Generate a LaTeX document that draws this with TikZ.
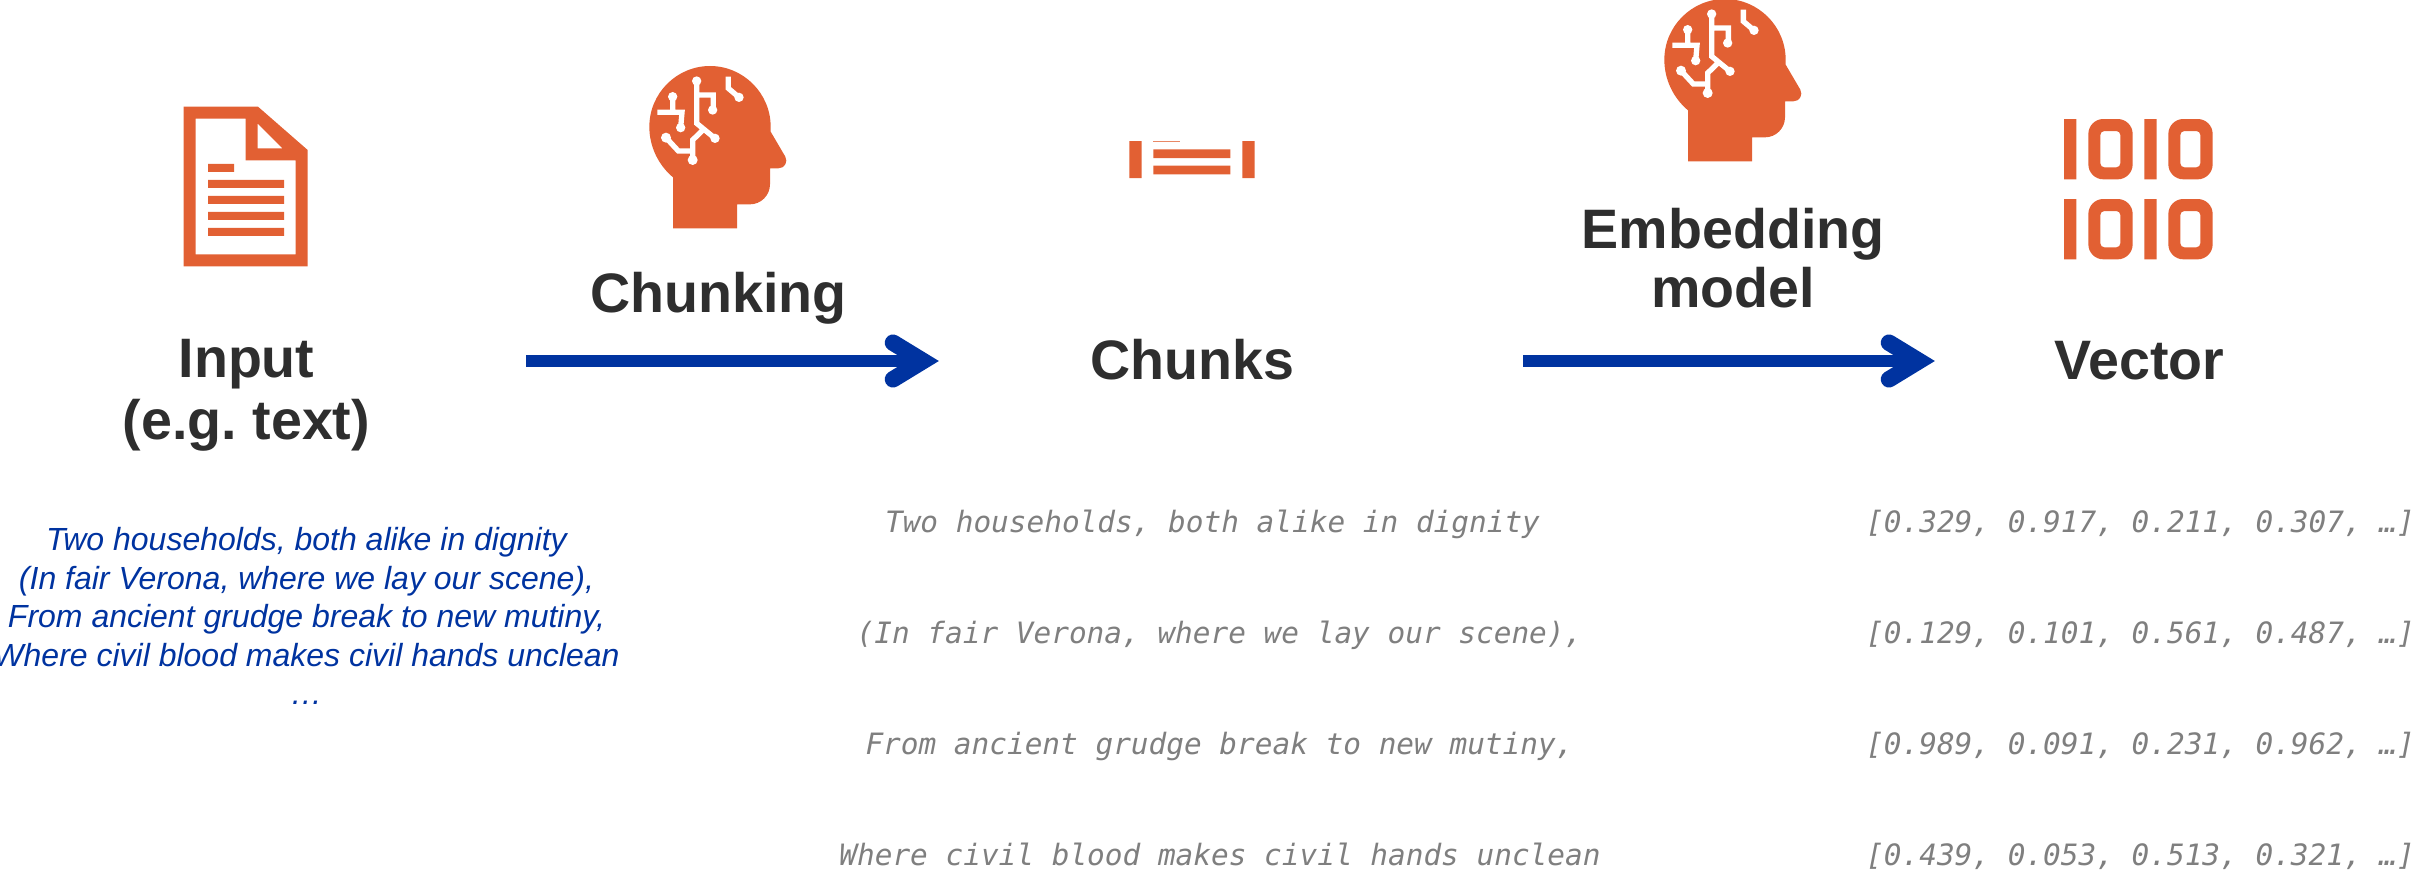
\documentclass[tikz,border=0pt]{standalone}
\usepackage{fontspec}
\setmainfont{Liberation Sans}
\newfontfamily\monofam{DejaVu Sans Mono}
\frenchspacing
\definecolor{iconc}{HTML}{E26033}
\definecolor{arrowc}{HTML}{0033A0}
\definecolor{titlec}{HTML}{2E2E2E}
\definecolor{monoc}{HTML}{7F7F7F}
\tikzset{
  x=1pt,y=-1pt,
  title/.style={font=\fontsize{55.6}{62}\selectfont\bfseries,text=titlec,align=center,inner sep=0pt},
  verse/.style={font=\fontsize{32}{38.5}\selectfont\itshape,text=arrowc,align=center,inner sep=0pt},
  chunkline/.style={font=\monofam\itshape\fontsize{29.4}{34}\selectfont,text=monoc,anchor=base,inner sep=0pt},
  vecline/.style={font=\monofam\itshape\fontsize{29.4}{34}\selectfont,text=monoc,anchor=base west,inner sep=0pt},
  flow/.style={draw=arrowc,line width=12pt},
  barb/.style={draw=arrowc,line width=16.5pt,line cap=round,line join=miter,miter limit=10},
  headicon/.pic={
    \begin{scope}[x=0.33333pt,y=-0.33333pt]
    \fill[iconc] (129,367) .. controls (85,330) and (58,275) .. (58,215)
      .. controls (58,115) and (140,33) .. (240,33)
      .. controls (340,33) and (422,115) .. (422,215)
      -- (422,230) -- (466,305) .. controls (474,320) and (465,340) .. (445,340)
      -- (420,340) -- (420,388) .. controls (420,421) and (393,448) .. (360,448)
      -- (321,448) -- (321,520) -- (129,520) -- cycle;
    \draw[white,line width=5.3pt,line join=miter]
      (200,78) -- (200,205) -- (255,250)
      (200,120) -- (250,120) -- (250,165)
      (222,222) -- (188,255) -- (188,315)
      (188,288) -- (145,288) -- (108,248)
      (128,125) -- (128,172)
      (82,172) -- (156,172) -- (152,218)
      (295,65) -- (295,100) -- (327,127);
    \fill[white] (200,78) circle[radius=14] (255,250) circle[radius=14]
      (248,165) circle[radius=14] (188,315) circle[radius=15]
      (108,248) circle[radius=15] (128,125) circle[radius=14]
      (152,218) circle[radius=14] (327,127) circle[radius=14];
    \end{scope}
  },
  binrow/.pic={
    \begin{scope}[x=0.33333pt,y=-0.33333pt]
    \fill[iconc] (72,0) rectangle (109,181) (313,0) rectangle (350,181);
    \fill[iconc,even odd rule]
      (145,0) [rounded corners=15pt] rectangle (278,181)
      [rounded corners=4pt] (181,36) rectangle (241,145)
      [rounded corners=15pt] (385,0) rectangle (518,181)
      [rounded corners=4pt] (421,36) rectangle (481,145);
    \end{scope}
  }
}
\begin{document}
\begin{tikzpicture}
\useasboundingbox (0,0) rectangle (2415,875);
% document icon
\begin{scope}[shift={(170,95)},x=0.33333pt,y=-0.33333pt]
  \fill[iconc,even odd rule] (41,35) -- (264,35) -- (413,165) -- (413,514) -- (41,514) -- cycle
    (77,71) -- (227,71) -- (227,196) -- (377,196) -- (377,478) -- (77,478) -- cycle
    (263,86) -- (337,160) -- (263,160) -- cycle;
  \fill[iconc] (114,207) rectangle (192,231)
    (114,255) rectangle (342,279) (114,303) rectangle (342,327)
    (114,351) rectangle (342,375) (114,399) rectangle (342,423);
\end{scope}
\pic at (630,55) {headicon};
\pic at (1645,-12) {headicon};
% chunks icon
\begin{scope}[shift={(1110,120)},x=0.33333pt,y=-0.33333pt]
  \fill[iconc] (58,63) rectangle (95,174) (397,63) rectangle (434,174)
    (130,88) rectangle (361,114) (130,137) rectangle (361,163);
  \fill[iconc!75] (130,63) rectangle (210,65);
\end{scope}
% binary icon
\pic at (2040,119) {binrow};
\pic at (2040,199) {binrow};
% titles
\node[title] (input) at (246.5,395.5) {Input\\(e.g. text)};
\node[title,anchor=base] (chunking) at (718.5,312) {Chunking};
\node[title,anchor=base] (chunks) at (1192.5,379) {Chunks};
\node[title] (embed) at (1733,258.5) {Embedding\\[-3pt]model};
\node[title,anchor=base] (vector) at (2139.5,379) {Vector};
% arrows
\coordinate (a1s) at (526,361);
\coordinate (a1e) at (923,361);
\coordinate (a2s) at (1523,361);
\coordinate (a2e) at (1919,361);
\draw[flow] (a1s) -- (a1e);
\draw[flow] (a2s) -- (a2e);
\draw[barb] (a1e) ++(-30,-18.3) -- ++(30,18.3) -- ++(-30,18.3);
\draw[barb] (a2e) ++(-30,-18.3) -- ++(30,18.3) -- ++(-30,18.3);
% verse
\node[verse] (versetext) at (306.5,616) {Two households, both alike in dignity\\(In fair Verona, where we lay our scene),\\From ancient grudge break to new mutiny,\\Where civil blood makes civil hands unclean\\…};
% chunks
\node[chunkline] (c1) at (1212.5,532) {Two households, both alike in dignity};
\node[chunkline] (c2) at (1219.5,643) {(In fair Verona, where we lay our scene),};
\node[chunkline] (c3) at (1219.5,754) {From ancient grudge break to new mutiny,};
\node[chunkline] (c4) at (1220,865) {Where civil blood makes civil hands unclean};
% vectors
\node[vecline] (v1) at (1866,532) {[0.329, 0.917, 0.211, 0.307, …]};
\node[vecline] (v2) at (1866,643) {[0.129, 0.101, 0.561, 0.487, …]};
\node[vecline] (v3) at (1866,754) {[0.989, 0.091, 0.231, 0.962, …]};
\node[vecline] (v4) at (1866,865) {[0.439, 0.053, 0.513, 0.321, …]};
\end{tikzpicture}
\end{document}
